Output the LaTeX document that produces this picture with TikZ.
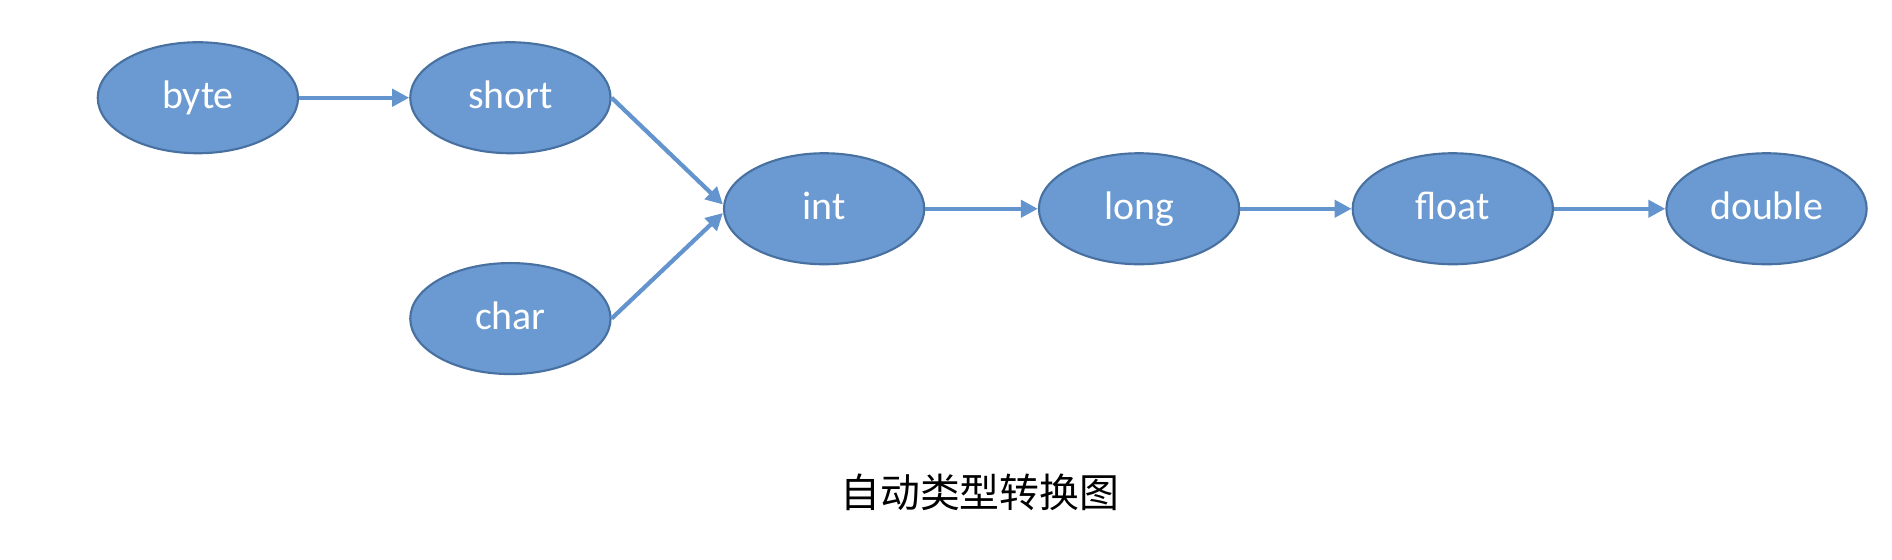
\documentclass[tikz,border=0pt]{standalone}
\usepackage{fontspec}
\setmainfont{Carlito}
\newfontfamily\cjk{Noto Sans CJK SC}
\usetikzlibrary{shapes.geometric,arrows.meta}
\definecolor{typefill}{RGB}{106,154,209}
\definecolor{typeline}{RGB}{72,112,160}
\definecolor{convline}{RGB}{100,148,205}
\begin{document}
\begin{tikzpicture}[
    typ/.style={ellipse,draw=typeline,line width=0.5pt,fill=typefill,text=white,
      minimum width=1.66cm,minimum height=0.92cm,inner sep=0pt,
      text height=1.55ex,text depth=0.45ex,
      font=\fontsize{9.4}{11}\selectfont},
    conv/.style={draw=convline,line width=1pt,-{Triangle[length=4pt,width=4pt]}}]
    \useasboundingbox (0,0) rectangle (15.68,4.64);
    \node[typ] (byte) at (1.64,3.83) {byte};
    \node[typ] (short) at (4.23,3.83) {short};
    \node[typ] (char) at (4.23,2.00) {char};
    \node[typ] (int) at (6.83,2.91) {int};
    \node[typ] (long) at (9.44,2.91) {long};
    \node[typ] (float) at (12.04,2.91) {float};
    \node[typ] (double) at (14.64,2.91) {double};
    \draw[conv] (byte) -- (short);
    \draw[conv] (short.east) -- ([yshift=1pt]int.west);
    \draw[conv] (char.east) -- ([yshift=-1pt]int.west);
    \draw[conv] (int) -- (long);
    \draw[conv] (long) -- (float);
    \draw[conv] (float) -- (double);
    \node[font=\cjk\fontsize{9.4}{11}\selectfont] (title) at (8.12,0.56) {自动类型转换图};
  \end{tikzpicture}
\end{document}
